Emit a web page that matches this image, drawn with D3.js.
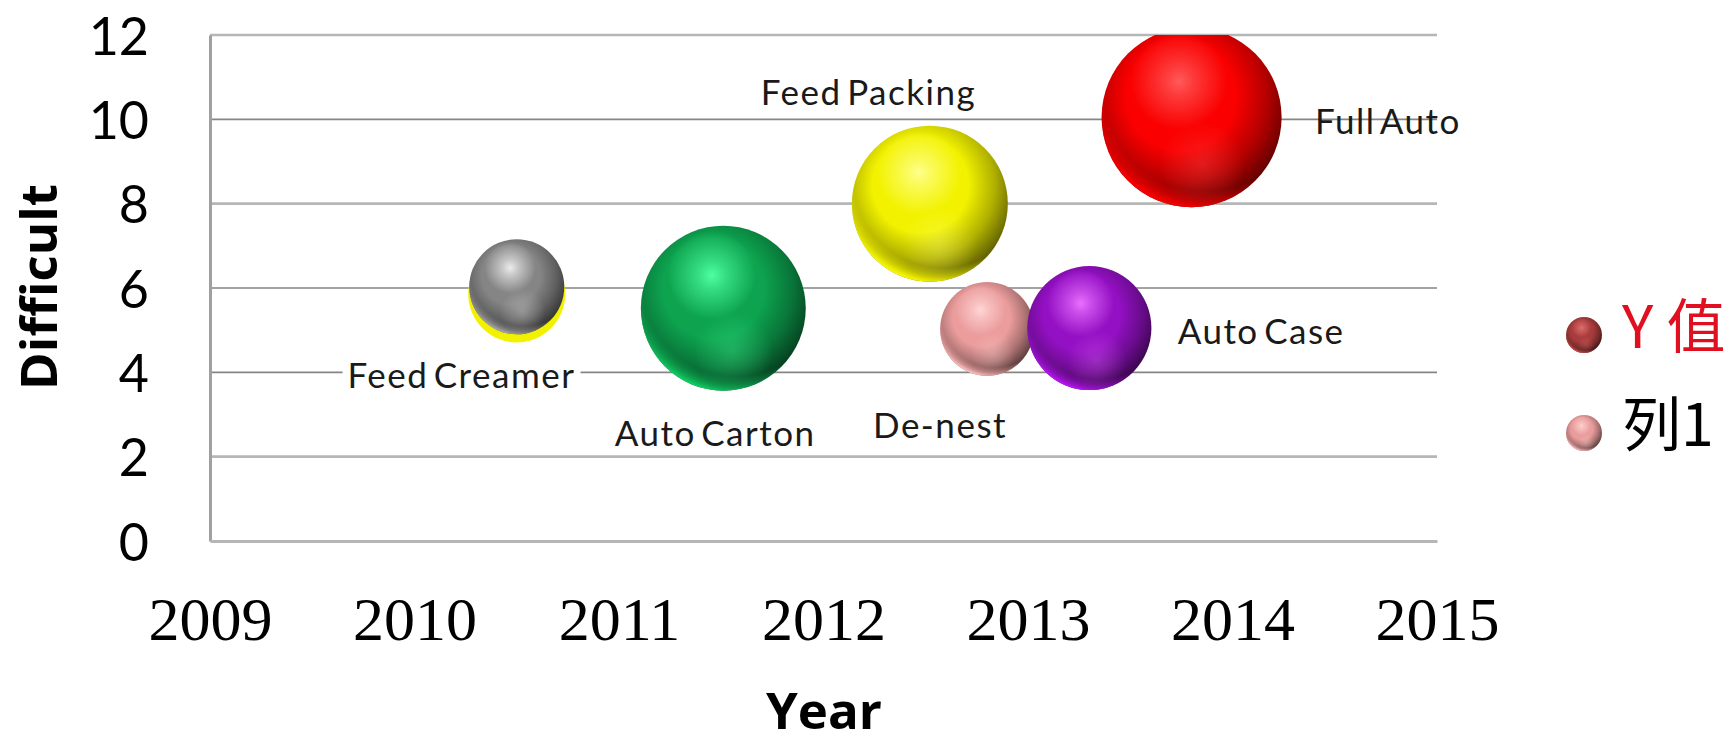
<!DOCTYPE html>
<html><head><meta charset="utf-8">
<script src="https://cdnjs.cloudflare.com/ajax/libs/d3/7.8.5/d3.min.js"></script>
<style>html,body{margin:0;background:#fff}svg{display:block}</style></head>
<body><svg id="c" width="1730" height="737"></svg>
<script>
const names=["Feed Creamer","Auto Carton","Feed Packing","De-nest","Auto Case","Full Auto"];
const years=[2010.5,2011.51,2012.52,2012.8,2013.3,2013.8];
const difficulty=[6.03,5.52,8,5.03,5.05,10.05];
const sizes=[1.7,5.12,4.58,1.66,2.9,6.1];
const colors=["#858585","#0da34f","#f2f200","#eb9c9c","#9410c4","#fa0000"];
const highlights=["#ececec","#4dffa0","#ffff8c","#ffd6d6","#e870ff","#ff5a5a"];
const yTicks=[0,2,4,6,8,10,12];
const heavyLines=[0,2,8,12];
const xTicks=[2009,2010,2011,2012,2013,2014,2015];
const labelX=[2010.23,2011.47,2012.22,2012.57,2014.14,2014.76];
const labelY=[3.83,2.47,10.55,2.65,4.88,9.87];
const maskedLabels=[0];
const legendNames=["Y 值","列1"];
const legendColors=["#a83c3c","#e89c9c"];
const legendHighlights=["#e07070","#ffd0d0"];

const svg=d3.select("#c");
const x=d3.scaleLinear().domain([2009,2015]).range([210,1437]);
const y=d3.scaleLinear().domain([0,12]).range([541,35]);
const r=d3.scaleSqrt().domain([0,6.1]).range([0,90]);
const defs=svg.append("defs");
defs.append("clipPath").attr("id","plot").append("rect").attr("x",x(2009)).attr("y",y(12)).attr("width",x(2015)-x(2009)+300).attr("height",y(0)-y(12));

function stops(g,list){list.forEach(([o,c,a])=>g.append("stop").attr("offset",o).attr("stop-color",c).attr("stop-opacity",a===undefined?1:a));}
function makeSphere(id,c,h){
  const col=d3.color(c);
  stops(defs.append("radialGradient").attr("id",id+"a").attr("cx",.44).attr("cy",.38).attr("r",.68),
    [[0,c],[.45,c],[.7,col.darker(.9)],[.88,col.darker(2.2)],[1,col.darker(3.5)]]);
  stops(defs.append("radialGradient").attr("id",id+"b").attr("cx",.58).attr("cy",.34).attr("r",.68),
    [[0,c,0],[.84,c,0],[.96,col.brighter(.5),.8],[1,col.brighter(.8),1]]);
  stops(defs.append("radialGradient").attr("id",id+"c").attr("cx",.56).attr("cy",.76).attr("r",.24),
    [[0,h,.3],[1,h,0]]);
  stops(defs.append("radialGradient").attr("id",id+"d").attr("cx",.43).attr("cy",.30).attr("r",.27),
    [[0,h,1],[.3,h,.65],[1,h,0]]);
}
colors.forEach((c,i)=>makeSphere("b"+i,c,highlights[i]));
legendColors.forEach((c,i)=>makeSphere("l"+i,c,legendHighlights[i]));
const layers=["a","b","c","d"];

svg.append("g").selectAll("line").data(yTicks.slice(1)).join("line")
 .attr("x1",x(2009)).attr("x2",x(2015)).attr("y1",d=>y(d)).attr("y2",d=>y(d))
 .attr("stroke",d=>heavyLines.includes(d)?"#b6b6b6":"#858585").attr("stroke-width",d=>heavyLines.includes(d)?2.6:1.6);
const yAxis=svg.append("g").attr("transform",`translate(${x(2009)},0)`).call(d3.axisLeft(y).tickValues(yTicks).tickSize(0).tickPadding(61));
yAxis.select(".domain").attr("stroke","#a0a0a0").attr("stroke-width",3);
yAxis.selectAll("text").attr("font-family","Lato, sans-serif").attr("font-size",52).attr("dy","0.37em").attr("fill","#000");
const xAxis=svg.append("g").attr("transform",`translate(0,${y(0)})`).call(d3.axisBottom(x).tickValues(xTicks).tickFormat(d3.format("d")).tickSize(0).tickPadding(55));
xAxis.select(".domain").attr("stroke","#b6b6b6").attr("stroke-width",3);
xAxis.selectAll("text").attr("font-family","Liberation Serif, serif").attr("font-size",62).attr("fill","#000");

const labels=d3.range(names.length);
const labelBg=svg.append("g");
const bubbles=svg.append("g").attr("clip-path","url(#plot)");
bubbles.append("circle").attr("cx",x(years[0])).attr("cy",y(5.86)).attr("r",r(sizes[0])+1).attr("fill",colors[2]);
labels.forEach(i=>{
  bubbles.selectAll(null).data(layers).join("circle")
   .attr("cx",x(years[i])).attr("cy",y(difficulty[i])).attr("r",r(sizes[i])).attr("fill",l=>`url(#b${i}${l})`);
});
const lt=svg.append("g").selectAll("text").data(labels).join("text")
 .attr("x",i=>x(labelX[i])).attr("y",i=>y(labelY[i])).attr("text-anchor","middle").attr("dominant-baseline","middle")
 .attr("font-family","Lato, sans-serif").attr("font-size",35).attr("letter-spacing",1.5).attr("word-spacing",-5).attr("fill","#1a1a1a").text(i=>names[i]);
lt.filter(i=>maskedLabels.includes(i)).each(function(){
  const b=this.getBBox();
  labelBg.append("rect").attr("x",b.x-5).attr("y",b.y).attr("width",b.width+10).attr("height",b.height).attr("fill","#fff");
});

svg.append("text").attr("transform","translate(43,287) rotate(-90)").attr("text-anchor","middle").attr("dominant-baseline","middle")
 .attr("font-family","Open Sans, sans-serif").attr("font-weight",700).attr("font-size",51).text("Difficult");
svg.append("text").attr("x",824).attr("y",715).attr("text-anchor","middle").attr("dominant-baseline","middle")
 .attr("font-family","Open Sans, sans-serif").attr("font-weight",700).attr("font-size",51).text("Year");

const ly=d3.scalePoint().domain([0,1]).range([335,433]);
const lg=svg.append("g").selectAll("g").data([0,1]).join("g").attr("transform",i=>`translate(0,${ly(i)})`);
layers.forEach(l=>lg.append("circle").attr("cx",1584).attr("r",18).attr("fill",i=>`url(#l${i}${l})`));
lg.append("text").attr("x",1622).attr("y",-3).attr("dominant-baseline","middle").attr("font-family","Noto Sans CJK SC, sans-serif").attr("font-size",59)
 .attr("fill",i=>i==0?"#e01020":"#000").text(i=>legendNames[i]);
</script></body></html>
